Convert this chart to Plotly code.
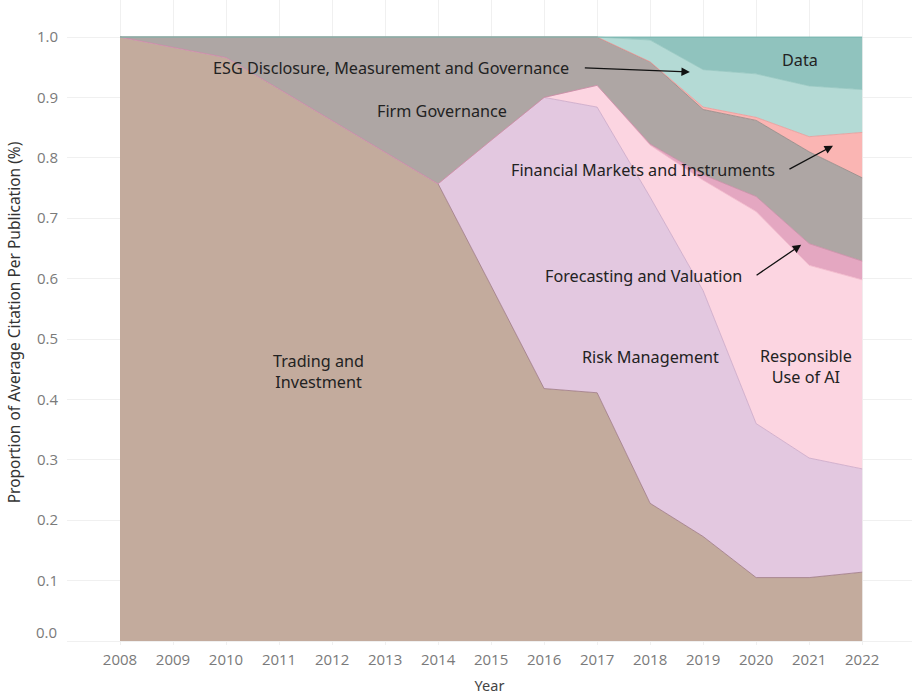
import plotly.graph_objects as go

years = list(range(2008, 2023))
year_labels = [str(y) for y in years]

trading = [1.0, 0.983, 0.966, 0.914, 0.862, 0.81, 0.757, 0.588, 0.418, 0.411, 0.228, 0.173, 0.105, 0.105, 0.114]
risk = [0, 0, 0, 0, 0, 0, 0, 0.241, 0.482, 0.473, 0.507, 0.407, 0.255, 0.198, 0.171]
responsible = [0, 0, 0, 0, 0, 0, 0, 0, 0, 0.036, 0.086, 0.183, 0.351, 0.319, 0.313]
forecasting = [0, 0, 0, 0, 0, 0, 0, 0, 0, 0, 0.002, 0.009, 0.025, 0.036, 0.031]
firm_gov = [0, 0.017, 0.034, 0.086, 0.138, 0.19, 0.243, 0.171, 0.10, 0.08, 0.136, 0.108, 0.126, 0.152, 0.138]
fin_markets = [0, 0, 0, 0, 0, 0, 0, 0, 0, 0, 0, 0.004, 0.005, 0.025, 0.075]
esg = [0, 0, 0, 0, 0, 0, 0, 0, 0, 0, 0.036, 0.062, 0.072, 0.084, 0.071]
data_ = [0, 0, 0, 0, 0, 0, 0, 0, 0, 0, 0.005, 0.054, 0.061, 0.081, 0.087]

y_ticks = [i / 10 for i in range(11)]
y_tick_labels = ["", "0.1", "0.2", "0.3", "0.4", "0.5", "0.6", "0.7", "0.8", "0.9", "1.0"]

series = [
    ("Trading and Investment", trading, "#c3ab9d", "#9c7682"),
    ("Risk Management", risk, "#e3c8e0", "#c9a6c6"),
    ("Responsible Use of AI", responsible, "#fcd5e1", "#f2b8ca"),
    ("Forecasting and Valuation", forecasting, "#e4a7c1", "#c98aa5"),
    ("Firm Governance", firm_gov, "#aea6a4", "#8f8684"),
    ("Financial Markets and Instruments", fin_markets, "#fab5b3", "#ee9795"),
    ("ESG Disclosure, Measurement and Governance", esg, "#b4dad5", "#95c6c0"),
    ("Data", data_, "#90c3be", "#6aaca5"),
]

fig = go.Figure()
for name, vals, fc, lc in series:
    fig.add_trace(go.Scatter(
        x=years, y=vals, name=name, mode="lines", stackgroup="one",
        fillcolor=fc, line=dict(color=lc, width=0.8), showlegend=False,
        hoverinfo="x+y+name",
    ))

tfont = dict(family="Noto Sans, Open Sans, sans-serif", size=16.2, color="#222222")
texts = [
    ("ESG Disclosure, Measurement and Governance", 2013.11, 0.949),
    ("Firm Governance", 2014.08, 0.877),
    ("Financial Markets and Instruments", 2017.87, 0.780),
    ("Forecasting and Valuation", 2017.87, 0.604),
    ("Risk Management", 2018.0, 0.470),
    ("Responsible<br>Use of AI", 2020.94, 0.454),
    ("Trading and<br>Investment", 2011.75, 0.447),
    ("Data", 2020.83, 0.962),
]
for t, x, y in texts:
    fig.add_annotation(x=x, y=y, text=t, showarrow=False, font=tfont,
                       xanchor="center", yanchor="middle")

arrows = [
    (2018.75, 0.942, 2016.74, 0.949),
    (2021.45, 0.820, 2020.60, 0.780),
    (2020.85, 0.656, 2019.98, 0.604),
]
for hx, hy, tx, ty in arrows:
    fig.add_annotation(x=hx, y=hy, ax=tx, ay=ty, axref="x", ayref="y",
                       xref="x", yref="y", text="", showarrow=True,
                       arrowhead=2, arrowsize=1.3, arrowwidth=1.3,
                       arrowcolor="#111111")

tickfont = dict(size=15, color="#7a7a7a", family="Open Sans, sans-serif")
# bottom y tick label sits slightly above the baseline, as in the original
fig.add_annotation(xref="paper", x=0, y=0.015, yref="y", text="0.0", showarrow=False,
                   xanchor="right", yanchor="middle", xshift=-8, font=tickfont)

fig.update_layout(
    width=912, height=695,
    margin=dict(l=67, r=0, t=0, b=50),
    plot_bgcolor="white", paper_bgcolor="white",
    font=dict(family="Open Sans, sans-serif"),
    xaxis=dict(
        range=[2007.0, 2022.94], tickmode="array", tickvals=years, ticktext=year_labels,
        showgrid=True, gridcolor="#f0f0f0", gridwidth=1, zeroline=False,
        tickfont=tickfont, ticks="", ticklabelstandoff=4,
        title=dict(text="Year", font=dict(size=14.5, color="#444444", family="Noto Sans, sans-serif"), standoff=12),
        showline=False,
    ),
    yaxis=dict(
        range=[-0.0066, 1.0613], tickmode="array",
        tickvals=y_ticks, ticktext=y_tick_labels,
        showgrid=True, gridcolor="#f0f0f0", gridwidth=1, zeroline=False,
        tickfont=tickfont, ticks="", ticklabelstandoff=8,
        title=dict(text="Proportion of Average Citation Per Publication (%)",
                   font=dict(size=15.5, color="#333333", family="Noto Sans, sans-serif"), standoff=12),
    ),
)

fig.write_html("out.html", config={"displayModeBar": False},
               post_script="document.body.style.margin='0';document.body.style.overflow='hidden';")
